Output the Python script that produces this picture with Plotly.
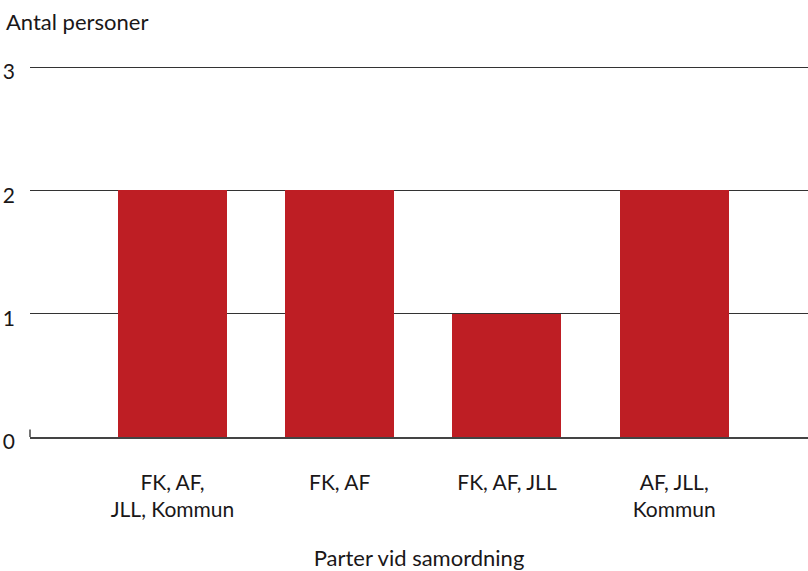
import plotly.graph_objects as go

categories = ["FK, AF,<br>JLL, Kommun", "FK, AF", "FK, AF, JLL", "AF, JLL,<br>Kommun"]
values = [2, 2, 1, 2]
y_ticks = [0, 1, 2, 3]

FONT = "Lato"
TXT = "#1a1718"

fig = go.Figure(go.Bar(
    x=categories, y=values,
    marker=dict(color="#be1e24", line=dict(width=0)),
    width=0.652,
    hoverinfo="skip",
))

fig.update_layout(
    width=808, height=571,
    margin=dict(l=30, r=0, t=65, b=134, autoexpand=False),
    paper_bgcolor="white", plot_bgcolor="white",
    font=dict(family=FONT, size=21, color=TXT),
    showlegend=False,
    bargap=0,
    title=dict(text="Antal personer", x=6/808, xref="container", xanchor="left",
               y=1-22/571, yref="container", yanchor="middle",
               pad=dict(l=0, r=0, t=0, b=0),
               font=dict(family=FONT, size=22, color=TXT)),
    xaxis=dict(
        range=[-0.852, 3.80], automargin=False,
        showgrid=False, zeroline=False,
        showline=True, linecolor="#444", linewidth=1.5,
        ticks="", ticklabelstandoff=26,
        tickfont=dict(family=FONT, size=21, color=TXT),
        title=dict(text="Parter vid samordning", standoff=33,
                   font=dict(family=FONT, size=22, color=TXT)),
    ),
    yaxis=dict(
        range=[0, 3.0162], tickvals=y_ticks, automargin=False,
        showgrid=True, gridcolor="#333", gridwidth=1,
        zeroline=False, showline=False,
        ticks="", ticklabelstandoff=14, ticklabelshift=5,
        tickfont=dict(family=FONT, size=21, color=TXT),
    ),
)

fig.add_shape(type="line", xref="paper", yref="y", x0=0, x1=0, y0=0, y1=0.06,
              line=dict(color="#444", width=1.5))

fig.write_html("out.html", config={"displayModeBar": False},
               post_script="document.body.style.margin='0';")
